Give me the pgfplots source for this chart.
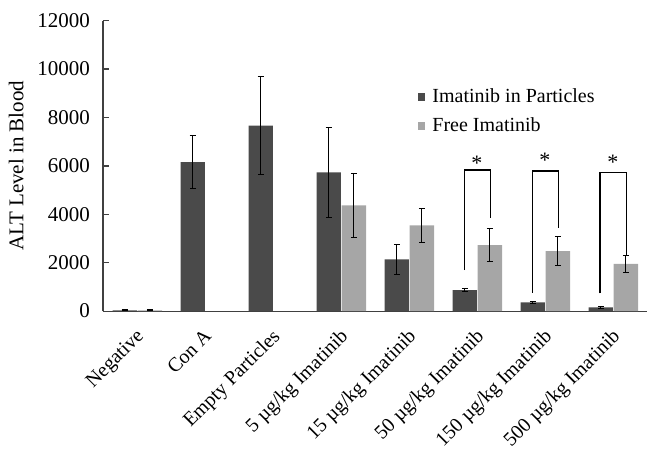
\documentclass[border=0pt]{standalone}
\usepackage{pgfplots}
\pgfplotsset{compat=1.18}
\usepackage{fontspec}
\setmainfont{Liberation Serif}
\definecolor{darkbar}{HTML}{4A4A4A}
\definecolor{lightbar}{HTML}{A6A6A6}
\definecolor{axisgray}{HTML}{404040}
\begin{document}
\begin{tikzpicture}
\begin{axis}[
  scale only axis,
  width=272pt, height=145.2pt,
  xmin=-0.5, xmax=7.5,
  ymin=0, ymax=12000,
  ytick={0,2000,...,12000},
  axis x line*=bottom, axis y line*=left,
  axis line style={axisgray, line width=0.6pt},
  every tick/.style={axisgray, line width=0.6pt},
  tick align=inside,
  major tick length=3pt,
  xtick={0,...,7},
  xticklabels={Negative, Con A, Empty Particles, 5 µg/kg Imatinib, 15 µg/kg Imatinib, 50 µg/kg Imatinib, 150 µg/kg Imatinib, 500 µg/kg Imatinib},
  x tick style={draw=none},
  extra x ticks={0.5,1.5,...,7.5},
  extra x tick labels={},
  extra x tick style={tick style={axisgray, line width=0.6pt}, major tick length=3pt},
  xticklabel style={anchor=north east, inner sep=0pt, xshift=-1pt, yshift=-8.2pt, rotate=45, font=\fontsize{10}{12}\selectfont},
  yticklabel style={font=\fontsize{10.5}{12}\selectfont, xshift=-3pt},
  /pgf/number format/assume math mode=true,
  scaled y ticks=false,
  yticklabel={\pgfmathprintnumber[fixed, 1000 sep={}]{\tick}},
  ylabel={ALT Level in Blood},
  ylabel style={font=\fontsize{10.5}{12}\selectfont},
  clip=false,
  legend style={draw=none, fill=none, at={(0.578,0.782)}, anchor=north west,
    font=\fontsize{10}{12}\selectfont, row sep=2pt, inner sep=0pt,
    nodes={inner xsep=3.5pt}},
  legend cell align=left,
  error bars/error bar style={black, line width=0.5pt},
  error bars/error mark options={rotate=90, mark size=1.5pt, black, line width=0.5pt},
]
\addplot[ybar, bar width=0.36, bar shift=0, fill=darkbar, draw=none,
  area legend,
  legend image code/.code={\fill[darkbar] (0pt,-1.9pt) rectangle (3.8pt,1.9pt);},
  error bars/.cd, y dir=both, y explicit]
coordinates {
 (-0.18,30) +- (0,20)
 (0.82,6160) +- (0,1110)
 (1.82,7660) +- (0,2020)
 (2.82,5730) +- (0,1870)
 (3.82,2137) +- (0,620)
 (4.82,868) +- (0,50)
 (5.82,360) +- (0,30)
 (6.82,153) +- (0,25)
};
\addlegendentry{Imatinib in Particles}
\addplot[ybar, bar width=0.36, bar shift=0, fill=lightbar, draw=none,
  area legend,
  legend image code/.code={\fill[lightbar] (0pt,-1.9pt) rectangle (3.8pt,1.9pt);},
  error bars/.cd, y dir=both, y explicit]
coordinates {
 (0.19,30) +- (0,20)
 (3.19,4370) +- (0,1335)
 (4.19,3543) +- (0,710)
 (5.19,2728) +- (0,670)
 (6.19,2480) +- (0,600)
 (7.19,1955) +- (0,345)
};
\addlegendentry{Free Imatinib}
% significance brackets
\addplot[black, line width=0.7pt, forget plot] coordinates {(4.82,1695) (4.82,5830) (5.20,5830) (5.20,3857)};
\addplot[black, line width=0.7pt, forget plot] coordinates {(5.82,757) (5.82,5788) (6.20,5788) (6.20,3444)};
\addplot[black, line width=0.7pt, forget plot] coordinates {(6.81,730) (6.81,5733) (7.20,5733) (7.20,2315)};
\node[anchor=base, inner sep=0pt, font=\fontsize{11}{12}\selectfont] at (axis cs:5.0,5830) {*};
\node[anchor=base, inner sep=0pt, font=\fontsize{11}{12}\selectfont] at (axis cs:6.0,5950) {*};
\node[anchor=base, inner sep=0pt, font=\fontsize{11}{12}\selectfont] at (axis cs:7.0,5840) {*};
\coordinate (bbsw) at (rel axis cs:-0.1893,-0.4719);
\coordinate (bbne) at (rel axis cs:1.0,1.0713);
\end{axis}
\pgfresetboundingbox
\useasboundingbox (bbsw) rectangle (bbne);
\end{tikzpicture}
\end{document}
